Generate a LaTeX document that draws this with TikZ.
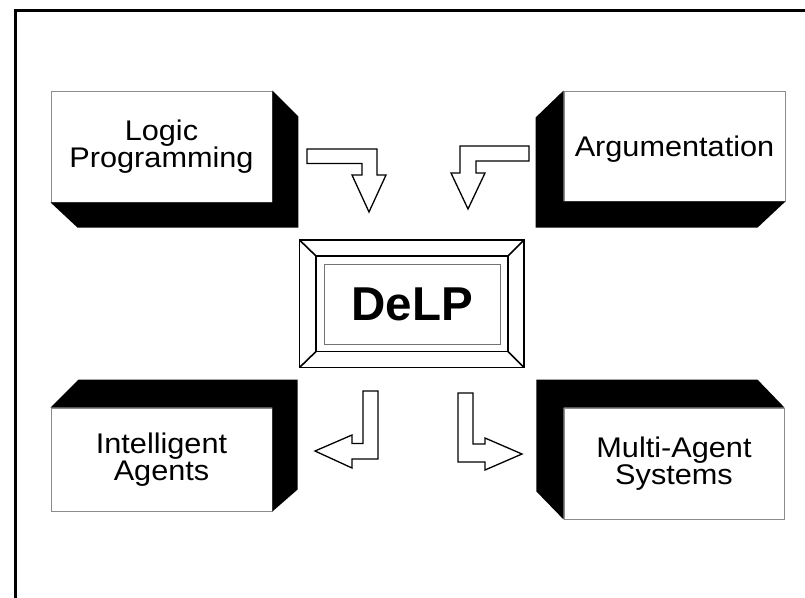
\documentclass[tikz,border=0pt]{standalone}
\usepackage{fontspec}
\setmainfont{Liberation Sans}
\newfontfamily\labelfont[FakeStretch=1.08]{Liberation Sans}
\begin{document}
\begin{tikzpicture}[x=1pt,y=-1pt,
  face/.style={draw=black!45, line width=0.9pt, fill=white, inner sep=0pt,
    align=center, font=\labelfont\fontsize{28.4}{27.5}\selectfont},
  extrude/.style={fill=black},
  blockarrow/.style={draw=black, line width=1.3pt, fill=white, line join=miter},
  bevel/.style={draw=black, line width=1.6pt, line join=miter}]
\useasboundingbox (0,0) rectangle (805,597);

% frame (top and left edges only)
\draw[line width=2.7pt] (15.5,600) -- (15.5,10.5) -- (808,10.5);

% four topic boxes with black extruded sides
\node[face, minimum width=221pt, minimum height=111pt] (lp) at (161.5,146.5) {Logic\\Programming};
\node[face, minimum width=221pt, minimum height=110pt, text depth=0pt] (arg) at (674.5,146) {Argumentation};
\node[face, minimum width=221pt, minimum height=103pt] (ia) at (161.5,459.5) {Intelligent\\Agents};
\node[face, minimum width=220pt, minimum height=111pt] (mas) at (674,463.5) {Multi-Agent\\Systems};

\fill[extrude] (lp.north east) -- ++(26,26) -- ++(0,111) -- ++(-221,0) -- (lp.south west) -- (lp.south east) -- cycle;
\fill[extrude] (arg.north west) -- ++(-28,27) -- ++(0,110) -- ++(222,0) -- (arg.south east) -- (arg.south west) -- cycle;
\fill[extrude] (ia.north west) -- ++(28,-28) -- ++(219,0) -- ++(0,110) -- (ia.south east) -- (ia.north east) -- cycle;
\fill[extrude] (mas.north east) -- ++(-27,-28) -- ++(-221,0) -- ++(0,112) -- (mas.south west) -- (mas.north west) -- cycle;

% central DeLP plate with bevelled frame
\node[draw=black!55, line width=0.9pt, minimum width=176pt, minimum height=80pt, inner sep=0pt,
      font=\bfseries\fontsize{47.5}{50}\selectfont] (delp) at (412,304) {DeLP};
\draw[bevel] (299.5,240) rectangle (524,367.5);
\draw[bevel] (316,256) rectangle (508,351.5);
\draw[bevel] (299.5,240) -- (316,256);
\draw[bevel] (524,240) -- (508,256);
\draw[bevel] (299.5,367.5) -- (316,351.5);
\draw[bevel] (524,367.5) -- (508,351.5);

% bent block arrows
\draw[blockarrow] (307,149) -- (377,149) -- (377,175) -- (386,175) -- (369,212)
  -- (352,175) -- (362,175) -- (362,163.5) -- (307,163.5) -- cycle;
\draw[blockarrow] (529,146) -- (460,146) -- (460,173) -- (451,173) -- (468,209)
  -- (485,173) -- (476,173) -- (476,161) -- (529,161) -- cycle;
\draw[blockarrow] (363,391) -- (378,391) -- (378,459) -- (352,459) -- (352,468)
  -- (315,451) -- (352,435) -- (352,443.5) -- (363,443.5) -- cycle;
\draw[blockarrow] (458,393) -- (473,393) -- (473,444) -- (485,444) -- (485,438)
  -- (522,454) -- (485,470) -- (485,462) -- (458,462) -- cycle;
\end{tikzpicture}
\end{document}
